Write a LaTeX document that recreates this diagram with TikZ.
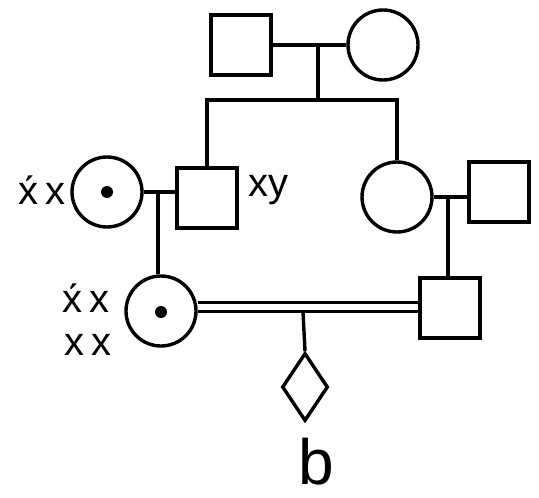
\documentclass[tikz,border=0pt]{standalone}
\usepackage{fontspec}
\setmainfont{Liberation Sans}
\usetikzlibrary{shapes.geometric}
\begin{document}
\begin{tikzpicture}[x=0.5pt,y=-0.5pt,line width=1.7pt,
  male/.style={draw,rectangle,minimum size=30pt,inner sep=0pt},
  female/.style={draw,circle,minimum size=35pt,inner sep=0pt},
  unknown/.style={draw,diamond,minimum width=23pt,minimum height=34pt,inner sep=0pt},
  geno/.style={font=\fontsize{20}{20}\selectfont,inner sep=0pt},
  dotc/.style={fill,circle,minimum size=6pt,inner sep=0pt}]
\useasboundingbox (0,0) rectangle (539,497);
% generation I
\node[male] (tsq) at (241,45) {};
\node[female] (tci) at (383,45) {};
\coordinate (m1) at (318,45);
\coordinate (sib) at (318,100);
% generation II
\node[female] (ci1) at (107,192) {};
\node[dotc] (d1) at (107,192) {};
\node[male] (sq1) at (207,198) {};
\node[female] (ci2) at (397,197) {};
\node[male] (sq2) at (499,192) {};
\coordinate (m2) at (158,192);
\coordinate (m3) at (448,195);
% generation III
\node[female] (ci3) at (161,311) {};
\node[dotc] (d3) at (161,312) {};
\node[male] (sq3) at (450,308) {};
\coordinate (m4) at (303,307);
% generation IV
\node[unknown] (dia) at (305,387) {};
\node[font=\fontsize{32}{32}\selectfont,inner sep=0pt,anchor=base] (lb) at (316,484) {b};
% genotype labels
\node[geno] (g1) at (42,190) {\'x\,x};
\node[geno] (g2) at (268,190) {xy};
\node[geno] (g3) at (86,298) {\'x\,x};
\node[geno] (g4) at (88,345) {x\,x};
% connectors
\draw (tsq) -- (tci);
\draw (m1) -- (sib);
\draw (sq1.north) -- (sq1.north |- sib) -- (ci2.north |- sib) -- (ci2.north);
\draw (ci1.east) -- (ci1.east -| sq1.west);
\draw (m2) -- (m2 |- ci3.north);
\draw (ci2.east) -- (ci2.east -| sq2.west);
\draw (m3) -- (m3 |- sq3.north);
\draw[double,double distance=3pt] (ci3.east |- m4) -- (sq3.west |- m4);
\draw (303,312) -- (dia.north);
\end{tikzpicture}
\end{document}
